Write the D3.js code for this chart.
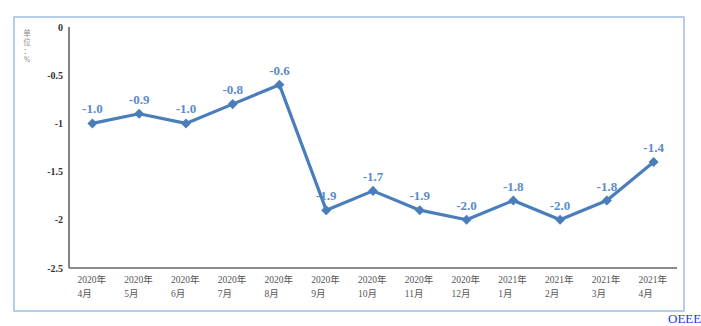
<!DOCTYPE html>
<html><head><meta charset="utf-8">
<script src="https://cdn.jsdelivr.net/npm/d3@7"></script>
<style>body{margin:0;background:#fff}svg{display:block}</style>
</head><body>
<script>
const categories = [["2020年","4月"],["2020年","5月"],["2020年","6月"],["2020年","7月"],["2020年","8月"],["2020年","9月"],["2020年","10月"],["2020年","11月"],["2020年","12月"],["2021年","1月"],["2021年","2月"],["2021年","3月"],["2021年","4月"]];
const values = [-1.0,-0.9,-1.0,-0.8,-0.6,-1.9,-1.7,-1.9,-2.0,-1.8,-2.0,-1.8,-1.4];
const yTicks = [0,-0.5,-1,-1.5,-2,-2.5];
const yTickLabels = ["0","-0.5","-1","-1.5","-2","-2.5"];
const unitLabel = ["单","位","：","%"];
const watermark = "OEEE";

const W=701,H=326;
const svg=d3.select("body").append("svg").attr("width",W).attr("height",H);
const serif='"Liberation Serif","Times New Roman","Noto Sans CJK SC",serif';

svg.append("rect").attr("x",14).attr("y",17).attr("width",670).attr("height",294)
  .attr("fill","#fff").attr("stroke","#9dbfe0").attr("stroke-width",1.5);

const x=d3.scaleBand().domain(d3.range(categories.length)).range([69,677]);
const y=d3.scaleLinear().domain([-2.5,0]).range([268,27]);

// axes
svg.append("line").attr("x1",69).attr("x2",69).attr("y1",y(0)).attr("y2",y(-2.5)).attr("stroke","#666").attr("stroke-width",1.6);
svg.append("line").attr("x1",69).attr("x2",677).attr("y1",y(-2.5)).attr("y2",y(-2.5)).attr("stroke","#666").attr("stroke-width",1.6);

svg.selectAll(".yt").data(yTicks).enter().append("text")
  .attr("x",63).attr("y",d=>y(d)+3.5).attr("text-anchor","end")
  .attr("font-family",serif).attr("font-weight","bold").attr("font-size",10).attr("fill","#333")
  .text((d,i)=>yTickLabels[i]);

const xt=svg.selectAll(".xt").data(categories).enter().append("text")
  .attr("font-family",serif).attr("font-size",9.5).attr("fill","#555");
xt.append("tspan").attr("x",(d,i)=>x(i)+x.bandwidth()/2-15).attr("y",283).text(d=>d[0]);
xt.append("tspan").attr("x",(d,i)=>x(i)+x.bandwidth()/2-15).attr("y",297).text(d=>d[1]);

// unit (vertical stack of characters)
svg.selectAll(".unit").data(unitLabel).enter().append("text")
  .attr("x",27).attr("y",(d,i)=>36+i*8.8).attr("text-anchor","middle")
  .attr("font-family",serif).attr("font-size",7.5).attr("fill","#888")
  .text(d=>d);

const cx=i=>x(i)+x.bandwidth()/2;
const line=d3.line().x((d,i)=>cx(i)).y(d=>y(d));
svg.append("path").datum(values).attr("d",line).attr("fill","none")
  .attr("stroke","#4a7ebb").attr("stroke-width",3.2).attr("stroke-linejoin","round");

svg.selectAll(".pt").data(values).enter().append("path")
  .attr("d",d3.symbol(d3.symbolDiamond2 || d3.symbolDiamond,64)())
  .attr("transform",(d,i)=>`translate(${cx(i)},${y(d)})`).attr("fill","#4a7ebb");

svg.selectAll(".lbl").data(values).enter().append("text")
  .attr("x",(d,i)=>cx(i)).attr("y",d=>y(d)-10).attr("text-anchor","middle")
  .attr("font-family",serif).attr("font-weight","bold").attr("font-size",13).attr("fill","#5b8cc8")
  .text(d=>d.toFixed(1));

svg.append("text").attr("x",668).attr("y",323).attr("font-family",serif).attr("font-size",13)
  .attr("fill","#2040d0").text(watermark);
</script>
</body></html>
